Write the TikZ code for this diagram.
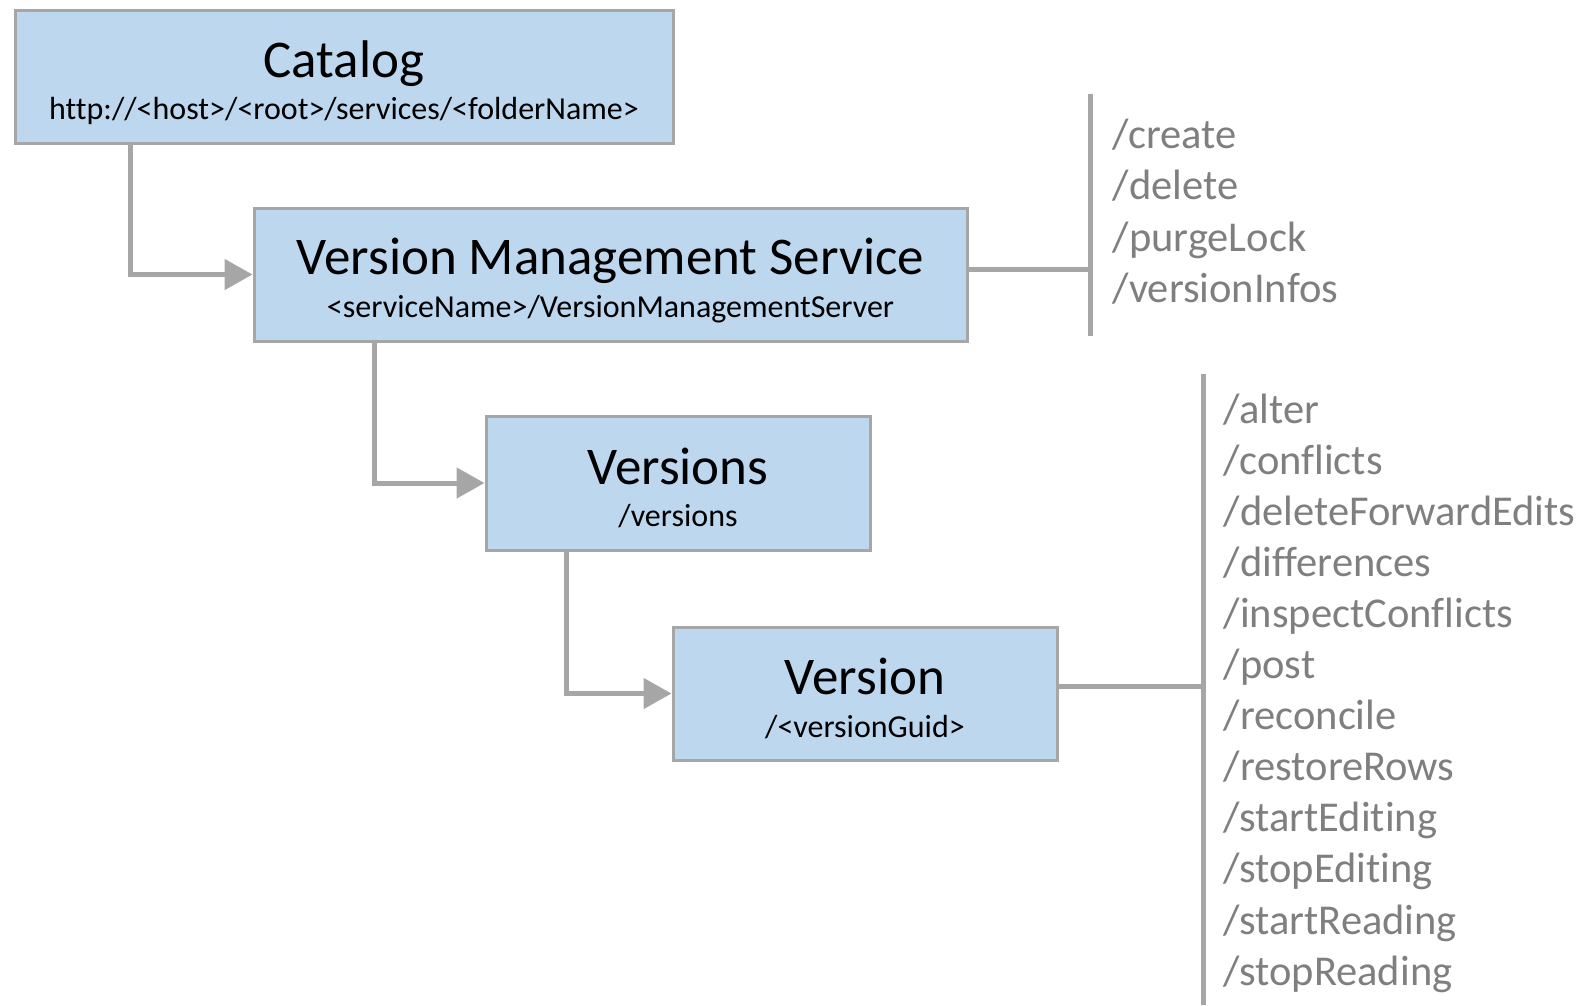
\documentclass[tikz,border=0pt]{standalone}
\usepackage{fontspec}
\setmainfont{Carlito}[Ligatures=NoCommon]
\usetikzlibrary{arrows.meta}
\definecolor{boxfill}{HTML}{BDD7EE}
\definecolor{linegray}{HTML}{A6A6A6}
\definecolor{txtgray}{HTML}{7F7F7F}
\tikzset{
  box/.style={draw=linegray, line width=3pt, fill=boxfill, inner sep=0pt, rectangle},
  titletxt/.style={anchor=base, inner sep=0pt, font=\fontsize{53}{60}\selectfont},
  subtxt/.style={anchor=base, inner sep=0pt, font=\fontsize{32}{36}\selectfont},
  conn/.style={draw=linegray, line width=5pt, -{Triangle[length=28pt,width=30pt]}},
  brk/.style={draw=linegray, line width=5pt},
  itemtxt/.style={anchor=base west, inner sep=0pt, text=txtgray, font=\fontsize{42.5}{50}\selectfont}
}
\begin{document}
\begin{tikzpicture}[x=1pt,y=-1pt]
\useasboundingbox (0,0) rectangle (1583,1005);
% boxes
\node[box, minimum width=658pt, minimum height=133pt] (cat) at (344,76.5) {};
\node[box, minimum width=713pt, minimum height=133pt] (vms) at (610.5,274.5) {};
\node[box, minimum width=384pt, minimum height=134pt] (vers) at (678,483) {};
\node[box, minimum width=384pt, minimum height=133pt] (ver) at (865,693.5) {};
% box texts
\node[titletxt] (catT) at (344,77) {Catalog};
\node[subtxt] (catS) at (344,119) {http://<host>/<root>/services/<folderName>};
\node[titletxt] (vmsT) at (610.5,274) {Version Management Service};
\node[subtxt] (vmsS) at (610.5,317) {<serviceName>/VersionManagementServer};
\node[titletxt] (versT) at (678,484) {Versions};
\node[subtxt] (versS) at (678,526) {/versions};
\node[titletxt] (verT) at (865,694) {Version};
\node[subtxt] (verS) at (865,737) {/<versionGuid>};
% connectors
\draw[conn] ([xshift=117pt]cat.south west) |- (vms.west);
\draw[conn] ([xshift=122pt]vms.south west) |- (vers.west);
\draw[conn] ([xshift=82pt]vers.south west) |- (ver.west);
% bracket 1
\coordinate (b1top) at (1090,94);
\coordinate (b1bot) at (1090,336);
\draw[brk] (b1top) -- (b1bot);
\draw[brk] ([yshift=5.5pt]vms.east) -- ([yshift=5.5pt]vms.east -| b1top);
% bracket 2
\coordinate (b2top) at (1203,374);
\coordinate (b2bot) at (1203,1005);
\draw[brk] (b2top) -- (b2bot);
\draw[brk] ([yshift=7pt]ver.east) -- ([yshift=7pt]ver.east -| b2top);
% list 1
\node[itemtxt] (l1a) at (1112.5,148.4) {/create};
\node[itemtxt] (l1b) at (1112.5,199.9) {/delete};
\node[itemtxt] (l1c) at (1112.5,251.4) {/purgeLock};
\node[itemtxt] (l1d) at (1112.5,302.9) {/versionInfos};
% list 2
\node[itemtxt] (l2a) at (1223.6,423.0) {/alter};
\node[itemtxt] (l2b) at (1223.6,474.1) {/conflicts};
\node[itemtxt] (l2c) at (1223.6,525.2) {/deleteForwardEdits};
\node[itemtxt] (l2d) at (1223.6,576.3) {/differences};
\node[itemtxt] (l2e) at (1223.6,627.4) {/inspectConflicts};
\node[itemtxt] (l2f) at (1223.6,678.5) {/post};
\node[itemtxt] (l2g) at (1223.6,729.6) {/reconcile};
\node[itemtxt] (l2h) at (1223.6,780.7) {/restoreRows};
\node[itemtxt] (l2i) at (1223.6,831.8) {/startEditing};
\node[itemtxt] (l2j) at (1223.6,882.9) {/stopEditing};
\node[itemtxt] (l2k) at (1223.6,934.0) {/startReading};
\node[itemtxt] (l2l) at (1223.6,985.1) {/stopReading};
\end{tikzpicture}
\end{document}
